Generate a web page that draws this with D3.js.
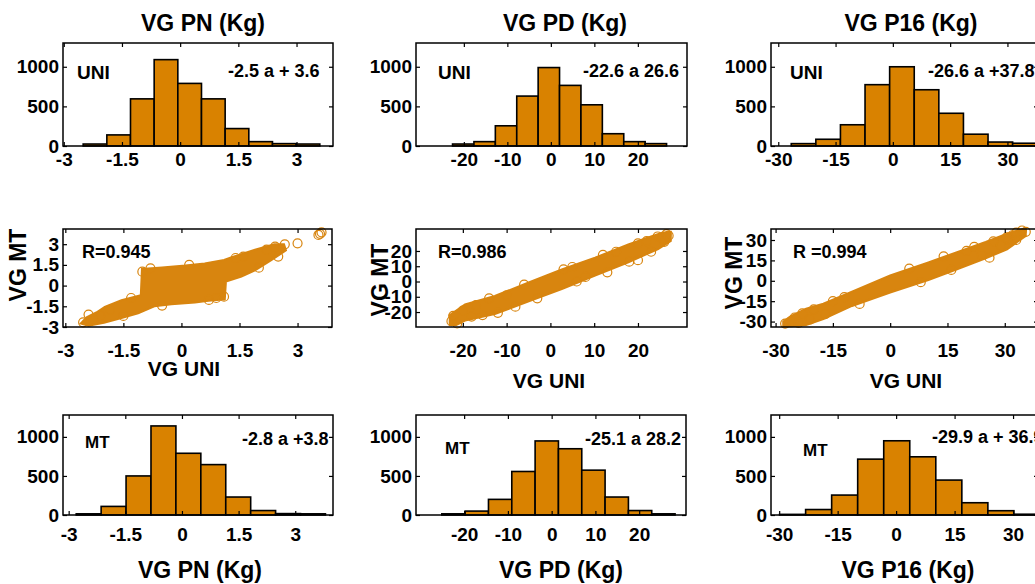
<!DOCTYPE html>
<html>
<head>
<meta charset="utf-8">
<script src="https://cdn.jsdelivr.net/npm/d3@7"></script>
<style>
body { margin: 0; background: #fff; }
text { font-family: "Liberation Sans", Arial, sans-serif; font-weight: bold; }
</style>
</head>
<body>
<svg id="chart" width="1035" height="584"></svg>
<script>
// ---- data ----
const titles = ['VG PN (Kg)', 'VG PD (Kg)', 'VG P16 (Kg)'];

// histogram ranges (min, max) as written in each panel, 10 bins each
const uniPNRange = [-2.5, 3.6];
const uniPDRange = [-22.6, 26.6];
const uniP16Range = [-26.6, 37.8];
const mtPNRange = [-2.8, 3.8];
const mtPDRange = [-25.1, 28.2];
const mtP16Range = [-29.9, 36.9];

const uniPNCounts = [25, 140, 595, 1090, 790, 595, 220, 55, 30, 25];
const uniPDCounts = [25, 55, 255, 630, 990, 765, 520, 155, 55, 30];
const uniP16Counts = [30, 85, 268, 774, 1000, 710, 413, 149, 50, 35];
const mtPNCounts = [15, 110, 500, 1140, 790, 645, 230, 57, 18, 15];
const mtPDCounts = [15, 50, 200, 557, 948, 848, 574, 230, 57, 15];
const mtP16Counts = [8, 70, 255, 715, 950, 745, 447, 157, 55, 10];

const notesUNI = ['-2.5 a + 3.6', '-22.6 a 26.6', '-26.6 a +37.8'];
const notesMT = ['-2.8 a +3.8', '-25.1 a 28.2', '-29.9 a + 36.9'];
const rLabels = ['R=0.945', 'R=0.986', 'R =0.994'];

const ticksPN = [-3, -1.5, 0, 1.5, 3];
const ticksPD = [-20, -10, 0, 10, 20];
const ticksP16 = [-30, -15, 0, 15, 30];
const countTicks = [0, 500, 1000];

// scatter clouds: outline of the dense region (x = UNI, y = MT)
const cloudPN = [[-2.6, -2.75], [-2.45, -2.3], [-2.2, -1.95], [-1.98, -1.55], [-1.55, -1.05], [-1.05, -0.7],
    [-1.02, 1.2], [-0.5, 1.32], [0.1, 1.45], [0.6, 1.6], [1.1, 1.85], [1.3, 2.05], [1.9, 2.6], [2.4, 3.0],
    [2.65, 3.0], [2.7, 2.55], [2.3, 1.8], [1.9, 1.1], [1.55, 0.65], [1.15, 0.3], [1.12, -1.0], [0.7, -1.1],
    [0.35, -1.22], [-0.26, -1.36], [-0.7, -1.5], [-1.12, -2.0], [-1.55, -2.35], [-2.0, -2.7], [-2.4, -2.9]];
const cloudPD = [[-23, -22], [-21.5, -19], [-19.5, -15], [-12.7, -9.5], [-5.1, -0.8], [2.6, 7.9], [10.2, 15.6],
    [17.8, 24.3], [23, 29.5], [25.5, 32], [27.5, 32.5], [27.5, 26.5], [24.6, 21.3], [17.8, 12.6], [10.2, 3.9],
    [2.6, -4.9], [-5.1, -13.2], [-12.7, -21.3], [-19.5, -25.6], [-21.5, -28.5], [-23, -28.5]];
const cloudP16 = [[-28, -30], [-26, -26], [-22, -20.5], [-17.5, -16.9], [-10, -8], [0, 4.0], [10, 13.5],
    [17.5, 21.1], [25, 28.5], [30.6, 34.6], [34.5, 38], [35.5, 38], [35.5, 33], [30.6, 23.2], [25, 16.5],
    [17.5, 8.5], [10, 0.5], [0, -8.6], [-10, -18.5], [-17.5, -28.2], [-22, -32.5], [-26, -33.5], [-28, -33.5]];

// individual circles visible at the edges of the clouds
const pointsPN = [[-2.54, -2.66], [-2.28, -2.49], [-2.1, -2.18], [-1.85, -1.75], [-1.01, 1.01], [-0.8, 1.25],
    [0.71, -1.04], [0.9, -0.9], [2.42, 2.82], [2.67, 2.99], [3.0, 3.06], [3.54, 3.67], [3.62, 3.86], [3.58, 3.75],
    [2.2, 2.6], [1.6, 2.1], [-2.4, -2.1], [-1.5, -2.2], [-1.3, -0.9], [-0.5, -1.45], [0.2, 1.5], [1.1, -0.8],
    [1.4, 2.0], [2.0, 1.3], [2.5, 2.1]];
const pointsPD = [[-22.6, -26], [-22.2, -22.5], [-21.3, -27.5], [-20, -19], [-17, -15.5], [-15.5, -22], [-10, -9],
    [-8, -16.5], [5, 9.5], [8, 3], [15, 19.5], [18, 13], [22, 26.5], [23, 19.5], [24.5, 29.5], [25.5, 28],
    [26.5, 31], [26, 26], [27, 30], [-18, -23], [-14, -11], [-12, -20.5], [-6, -2], [-3, -11], [3, 8], [6, 0],
    [12, 17.5], [13, 6], [20, 25], [20, 14]];
const pointsP16 = [[-27.5, -31.5], [-26, -30], [-25, -27], [-23, -24], [-21, -28.5], [-20, -21], [-17, -24.5],
    [-12, -12], [20, 22], [24, 19], [27, 29], [29, 26], [30.5, 32], [32, 33.5], [33, 35.5], [34.5, 37],
    [31, 30], [35.5, 36], [-24, -31], [-15, -15], [-8, -17], [5, 9], [8, -1], [14, 18], [16, 8], [22, 25],
    [26, 17], [33, 30]];

// ---- layout ----
const barColor = '#D98200';
const dotColor = '#D8850F';

const histPanels = [
    { box: [63, 333, 43, 146], xDom: [-3.02, 3.94], yDom: [0, 1300], range: uniPNRange, counts: uniPNCounts, xTicks: ticksPN, xPad: 6.5, label: 'UNI', labelAt: [77, 79], labelSize: 19, note: notesUNI[0], noteAt: [228, 77] },
    { box: [416, 687, 43, 146], xDom: [-31, 31.3], yDom: [0, 1300], range: uniPDRange, counts: uniPDCounts, xTicks: ticksPD, xPad: 6.5, label: 'UNI', labelAt: [438, 79], labelSize: 19, note: notesUNI[1], noteAt: [583, 77] },
    { box: [771, 1038, 43, 146], xDom: [-31.9, 38], yDom: [0, 1300], range: uniP16Range, counts: uniP16Counts, xTicks: ticksP16, xPad: 6.5, label: 'UNI', labelAt: [790, 79], labelSize: 19, note: notesUNI[2], noteAt: [928, 77] },
    { box: [63, 333, 415, 515], xDom: [-3.15, 4.0], yDom: [0, 1280], range: mtPNRange, counts: mtPNCounts, xPad: 13, xTicks: ticksPN, label: 'MT', labelAt: [85, 448], labelSize: 17, note: notesMT[0], noteAt: [242, 445] },
    { box: [416, 686, 415, 515], xDom: [-31, 30.7], yDom: [0, 1280], range: mtPDRange, counts: mtPDCounts, xPad: 13, xTicks: ticksPD, label: 'MT', labelAt: [445, 454], labelSize: 17, note: notesMT[1], noteAt: [585, 445] },
    { box: [771, 1038, 415, 515], xDom: [-32.1, 36.4], yDom: [0, 1280], range: mtP16Range, counts: mtP16Counts, xPad: 13, xTicks: ticksP16, label: 'MT', labelAt: [803, 456], labelSize: 17, note: notesMT[2], noteAt: [932, 443] }
];

const scatterPanels = [
    { box: [63, 332, 229, 327], xDom: [-3.06, 3.89], yDom: [-3.0, 4.1], cloud: cloudPN, points: pointsPN, xTicks: ticksPN, yTicks: ticksPN, r: rLabels[0], rAt: [82, 258], xLabelAt: [184, 376], yLabelAt: [18, 265] },
    { box: [416, 687, 229, 327], xDom: [-30.7, 31.2], yDom: [-29.8, 34.4], cloud: cloudPD, points: pointsPD, xTicks: ticksPD, yTicks: ticksPD, r: rLabels[1], rAt: [438, 258], xLabelAt: [549, 388], yLabelAt: [380, 280] },
    { box: [771, 1038, 229, 327], xDom: [-31.2, 38.7], yDom: [-34, 38.1], cloud: cloudP16, points: pointsP16, xTicks: ticksP16, yTicks: ticksP16, r: rLabels[2], rAt: [793, 258], xLabelAt: [906, 388], yLabelAt: [734, 273] }
];

const titleAt = [[203, 31], [565, 31], [911, 31]];
const bottomLabelAt = [[200, 578], [561, 578], [908, 578]];

const svg = d3.select('#chart');

const fmt = d => String(d);

function drawFrame(g, x, y, xTicks, yTicks, xPad) {
    const w = x.range()[1], h = y.range()[0];
    // MATLAB style box: inward ticks on every side
    g.append('g').attr('transform', `translate(0,${h})`)
        .call(d3.axisBottom(x).tickValues(xTicks).tickSize(-4).tickPadding(xPad).tickFormat(fmt));
    g.append('g').call(d3.axisTop(x).tickValues(xTicks).tickSize(-4).tickFormat(''));
    g.append('g').call(d3.axisLeft(y).tickValues(yTicks).tickSize(-4).tickPadding(4).tickFormat(fmt));
    g.append('g').attr('transform', `translate(${w},0)`)
        .call(d3.axisRight(y).tickValues(yTicks).tickSize(-4).tickFormat(''));
    g.selectAll('.domain').remove();
    g.selectAll('.tick line').attr('stroke', '#000').attr('stroke-width', 1.2);
    g.selectAll('.tick text').attr('font-size', 19).attr('fill', '#000');
    g.append('rect').attr('width', w).attr('height', h)
        .attr('fill', 'none').attr('stroke', '#000').attr('stroke-width', 1.5);
}

// histograms
histPanels.forEach(p => {
    const g = svg.append('g').attr('transform', `translate(${p.box[0]},${p.box[2]})`);
    const x = d3.scaleLinear().domain(p.xDom).range([0, p.box[1] - p.box[0]]);
    const y = d3.scaleLinear().domain(p.yDom).range([p.box[3] - p.box[2], 0]);
    const step = (p.range[1] - p.range[0]) / p.counts.length;
    const bins = p.counts.map((c, i) => ({ x0: p.range[0] + i * step, x1: p.range[0] + (i + 1) * step, n: c }));

    g.selectAll('rect.bar')
        .data(bins)
        .enter().append('rect')
        .attr('class', 'bar')
        .attr('x', d => x(d.x0))
        .attr('width', d => x(d.x1) - x(d.x0))
        .attr('y', d => y(d.n))
        .attr('height', d => y(0) - y(d.n))
        .attr('fill', barColor)
        .attr('stroke', '#000')
        .attr('stroke-width', 1.6);

    drawFrame(g, x, y, p.xTicks, countTicks, p.xPad);

    svg.append('text').attr('x', p.labelAt[0]).attr('y', p.labelAt[1])
        .attr('font-size', p.labelSize).text(p.label);
    svg.append('text').attr('x', p.noteAt[0]).attr('y', p.noteAt[1])
        .attr('font-size', 18).text(p.note);
});

// scatter plots
scatterPanels.forEach(p => {
    const g = svg.append('g').attr('transform', `translate(${p.box[0]},${p.box[2]})`);
    const x = d3.scaleLinear().domain(p.xDom).range([0, p.box[1] - p.box[0]]);
    const y = d3.scaleLinear().domain(p.yDom).range([p.box[3] - p.box[2], 0]);

    const outline = d3.line().x(d => x(d[0])).y(d => y(d[1])).curve(d3.curveLinearClosed);
    g.append('path')
        .datum(p.cloud)
        .attr('d', outline)
        .attr('fill', dotColor)
        .attr('stroke', dotColor)
        .attr('stroke-width', 2);

    g.selectAll('circle')
        .data(p.points)
        .enter().append('circle')
        .attr('cx', d => x(d[0]))
        .attr('cy', d => y(d[1]))
        .attr('r', 4.5)
        .attr('fill', 'none')
        .attr('stroke', dotColor)
        .attr('stroke-width', 1.2);

    drawFrame(g, x, y, p.xTicks, p.yTicks, 16.5);

    svg.append('text').attr('x', p.rAt[0]).attr('y', p.rAt[1])
        .attr('font-size', 18).text(p.r);
    svg.append('text').attr('x', p.xLabelAt[0]).attr('y', p.xLabelAt[1])
        .attr('text-anchor', 'middle').attr('font-size', 21).text('VG UNI');
    svg.append('text')
        .attr('transform', `translate(${p.yLabelAt[0]},${p.yLabelAt[1]}) rotate(-90)`)
        .attr('dy', '0.36em')
        .attr('text-anchor', 'middle').attr('font-size', 23).text('VG MT');
});

// titles on top, variable names below
titles.forEach((t, i) => {
    svg.append('text').attr('x', titleAt[i][0]).attr('y', titleAt[i][1])
        .attr('text-anchor', 'middle').attr('font-size', 23).text(t);
    svg.append('text').attr('x', bottomLabelAt[i][0]).attr('y', bottomLabelAt[i][1])
        .attr('text-anchor', 'middle').attr('font-size', 23).text(t);
});
</script>
</body>
</html>
